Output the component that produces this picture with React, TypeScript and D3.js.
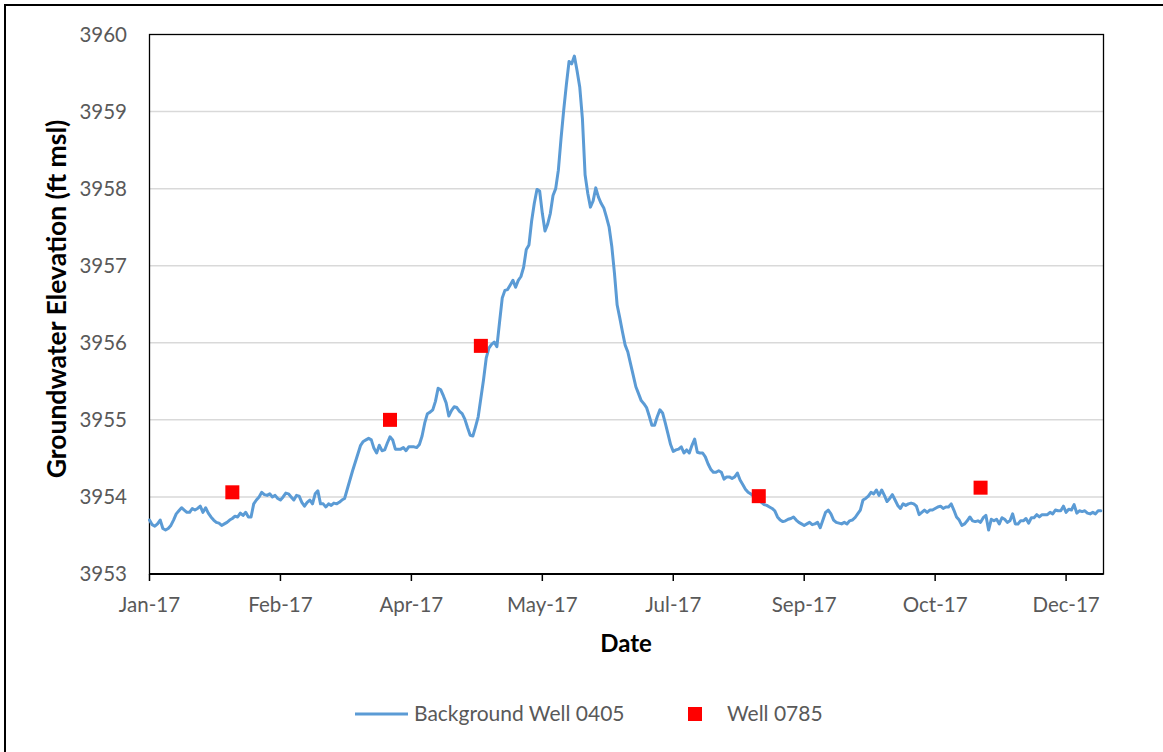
import React from "react";
import * as d3 from "d3";

// ---- Data ----
const seriesStart = "2017-01-01"; // first daily reading of Background Well 0405
const bgWellElevation: number[] = [
  3953.70, 3953.64, 3953.62, 3953.65, 3953.70, 3953.59, 3953.57, 3953.59, 3953.63, 3953.70,
  3953.78, 3953.82, 3953.86, 3953.83, 3953.80, 3953.80, 3953.85, 3953.83, 3953.85, 3953.88,
  3953.80, 3953.86, 3953.79, 3953.74, 3953.70, 3953.67, 3953.66, 3953.63, 3953.65, 3953.67,
  3953.70, 3953.72, 3953.75, 3953.74, 3953.79, 3953.76, 3953.80, 3953.74, 3953.74, 3953.91,
  3953.96, 3954.00, 3954.06, 3954.03, 3954.02, 3954.04, 3954.00, 3954.02, 3953.98, 3953.96,
  3954.00, 3954.05, 3954.04, 3954.00, 3953.96, 3954.02, 3954.01, 3953.93, 3953.88, 3953.93,
  3953.96, 3953.91, 3954.04, 3954.08, 3953.91, 3953.91, 3953.87, 3953.91, 3953.89, 3953.92,
  3953.91, 3953.93, 3953.96, 3953.98, 3954.10, 3954.22, 3954.34, 3954.45, 3954.56, 3954.67,
  3954.72, 3954.74, 3954.76, 3954.74, 3954.63, 3954.57, 3954.67, 3954.60, 3954.61, 3954.70,
  3954.78, 3954.74, 3954.62, 3954.62, 3954.62, 3954.64, 3954.60, 3954.65, 3954.65, 3954.65,
  3954.64, 3954.68, 3954.79, 3954.96, 3955.08, 3955.10, 3955.13, 3955.24, 3955.41, 3955.39,
  3955.31, 3955.22, 3955.05, 3955.12, 3955.17, 3955.16, 3955.11, 3955.08, 3955.01, 3954.90,
  3954.80, 3954.79, 3954.91, 3955.04, 3955.28, 3955.52, 3955.80, 3955.93, 3955.98, 3956.01,
  3955.95, 3956.27, 3956.58, 3956.68, 3956.69, 3956.75, 3956.81, 3956.72, 3956.81, 3956.86,
  3956.98, 3957.21, 3957.27, 3957.58, 3957.81, 3957.99, 3957.97, 3957.68, 3957.45, 3957.54,
  3957.68, 3957.91, 3958.00, 3958.24, 3958.65, 3959.02, 3959.35, 3959.65, 3959.62, 3959.72,
  3959.53, 3959.32, 3958.91, 3958.18, 3957.94, 3957.76, 3957.84, 3958.01, 3957.89, 3957.81,
  3957.75, 3957.63, 3957.50, 3957.25, 3956.90, 3956.49, 3956.32, 3956.14, 3955.97, 3955.88,
  3955.73, 3955.58, 3955.43, 3955.34, 3955.25, 3955.21, 3955.16, 3955.05, 3954.93, 3954.93,
  3955.04, 3955.13, 3955.09, 3954.96, 3954.82, 3954.68, 3954.59, 3954.61, 3954.62, 3954.65,
  3954.57, 3954.61, 3954.57, 3954.67, 3954.75, 3954.58, 3954.57, 3954.57, 3954.52, 3954.43,
  3954.36, 3954.32, 3954.32, 3954.34, 3954.32, 3954.23, 3954.26, 3954.26, 3954.24, 3954.26,
  3954.31, 3954.22, 3954.16, 3954.10, 3954.06, 3954.04, 3954.01, 3953.99, 3953.96, 3953.93,
  3953.90, 3953.89, 3953.87, 3953.85, 3953.82, 3953.74, 3953.70, 3953.68, 3953.69, 3953.71,
  3953.72, 3953.74, 3953.70, 3953.67, 3953.65, 3953.63, 3953.65, 3953.67, 3953.64, 3953.65,
  3953.67, 3953.60, 3953.70, 3953.80, 3953.83, 3953.78, 3953.70, 3953.67, 3953.66, 3953.65,
  3953.67, 3953.65, 3953.69, 3953.70, 3953.73, 3953.78, 3953.83, 3953.96, 3953.98, 3954.01,
  3954.06, 3954.04, 3954.09, 3954.02, 3954.09, 3954.02, 3953.94, 3953.98, 3954.03, 3953.96,
  3953.89, 3953.85, 3953.91, 3953.89, 3953.91, 3953.92, 3953.91, 3953.88, 3953.77, 3953.80,
  3953.83, 3953.80, 3953.83, 3953.83, 3953.85, 3953.87, 3953.88, 3953.85, 3953.87, 3953.87,
  3953.91, 3953.83, 3953.74, 3953.70, 3953.63, 3953.65, 3953.69, 3953.74, 3953.69, 3953.68,
  3953.69, 3953.67, 3953.73, 3953.76, 3953.57, 3953.71, 3953.69, 3953.71, 3953.65, 3953.73,
  3953.71, 3953.67, 3953.69, 3953.78, 3953.65, 3953.65, 3953.69, 3953.69, 3953.72, 3953.66,
  3953.73, 3953.73, 3953.77, 3953.74, 3953.77, 3953.77, 3953.77, 3953.80, 3953.78, 3953.83,
  3953.82, 3953.82, 3953.88, 3953.80, 3953.84, 3953.83, 3953.90, 3953.79, 3953.82, 3953.81,
  3953.82, 3953.79, 3953.78, 3953.80, 3953.78, 3953.82, 3953.82,
];

const well0785Dates = ["2017-02-01", "2017-04-01", "2017-05-05", "2017-08-17", "2017-11-08"];
const well0785Values = [3954.06, 3955.0, 3955.96, 3954.01, 3954.12];

const xTickDates = [
  "2017-01-01", "2017-02-19", "2017-04-09", "2017-05-28",
  "2017-07-16", "2017-09-03", "2017-10-22", "2017-12-10",
];
const xTickLabels = ["Jan-17", "Feb-17", "Apr-17", "May-17", "Jul-17", "Sep-17", "Oct-17", "Dec-17"];
const xDomain = ["2017-01-01", "2017-12-24"];
const yTicks = [3953, 3954, 3955, 3956, 3957, 3958, 3959, 3960];

// ---- Layout ----
const W = 1163;
const H = 752;
const plot = { left: 149.5, right: 1103.5, top: 34.5, bottom: 574 };
const FONT = "Lato, 'Open Sans', sans-serif";
const LINE_COLOR = "#5B9BD5";
const MARK_COLOR = "#FF0000";
const TEXT_GREY = "#595959";

const parse = d3.utcParse("%Y-%m-%d");

export default function App() {
  const x = d3
    .scaleUtc()
    .domain(xDomain.map((s) => parse(s) as Date))
    .range([plot.left, plot.right]);
  const y = d3.scaleLinear().domain([3953, 3960]).range([plot.bottom, plot.top]);

  const start = parse(seriesStart) as Date;
  const series = bgWellElevation.map((v, i) => ({ date: d3.utcDay.offset(start, i), v }));
  const lineGen = d3
    .line<{ date: Date; v: number }>()
    .x((d) => x(d.date))
    .y((d) => y(d.v));

  const markers = well0785Dates.map((s, i) => ({ date: parse(s) as Date, v: well0785Values[i] }));
  const mSize = 14;

  return (
    <svg
      width={W}
      height={H}
      style={{ position: "absolute", left: 0, top: 0, background: "#fff" }}
      fontFamily={FONT}
    >
      <rect x={0} y={0} width={W} height={H} fill="#fff" />
      {/* outer chart border */}
      <rect x={5} y={5} width={1300} height={900} fill="none" stroke="#000" strokeWidth={2} />

      {/* gridlines */}
      {yTicks
        .filter((t) => t !== 3953 && t !== 3960)
        .map((t) => (
          <line
            key={"g" + t}
            x1={plot.left}
            x2={plot.right}
            y1={y(t)}
            y2={y(t)}
            stroke="#D9D9D9"
            strokeWidth={1.5}
          />
        ))}

      {/* plot border */}
      <rect
        x={plot.left}
        y={plot.top}
        width={plot.right - plot.left}
        height={plot.bottom - plot.top}
        fill="none"
        stroke="#000"
        strokeWidth={1.3}
      />
      <line x1={plot.left} x2={plot.right} y1={plot.bottom} y2={plot.bottom} stroke="#000" strokeWidth={2} />

      {/* x ticks */}
      {xTickDates.map((s, i) => {
        const xx = x(parse(s) as Date);
        return (
          <g key={"xt" + i}>
            <line x1={xx} x2={xx} y1={plot.bottom} y2={plot.bottom + 7} stroke="#000" strokeWidth={1.5} />
            <text x={xx} y={612} textAnchor="middle" fontSize={20.5} fill={TEXT_GREY}>
              {xTickLabels[i]}
            </text>
          </g>
        );
      })}

      {/* y tick labels */}
      {yTicks.map((t) => (
        <text key={"yt" + t} x={127} y={y(t) + 7} textAnchor="end" fontSize={20.5} fill={TEXT_GREY}>
          {t}
        </text>
      ))}

      {/* series line */}
      <path
        d={lineGen(series) || ""}
        fill="none"
        stroke={LINE_COLOR}
        strokeWidth={3}
        strokeLinejoin="round"
        strokeLinecap="round"
      />

      {/* markers */}
      {markers.map((m, i) => (
        <rect
          key={"m" + i}
          x={x(m.date) - mSize / 2}
          y={y(m.v) - mSize / 2}
          width={mSize}
          height={mSize}
          fill={MARK_COLOR}
        />
      ))}

      {/* axis titles */}
      <text x={626} y={652} textAnchor="middle" fontSize={24} fontWeight="bold" fill="#000">
        Date
      </text>
      <text
        transform={`translate(66, 299) rotate(-90)`}
        textAnchor="middle"
        fontSize={26.5}
        fontWeight="bold"
        fill="#000"
      >
        Groundwater Elevation (ft msl)
      </text>

      {/* legend */}
      <line x1={355} x2={408} y1={714} y2={714} stroke={LINE_COLOR} strokeWidth={3} />
      <text x={414} y={721} fontSize={21} fill={TEXT_GREY}>
        Background Well 0405
      </text>
      <rect x={688} y={707} width={mSize} height={mSize} fill={MARK_COLOR} />
      <text x={727} y={721} fontSize={21} fill={TEXT_GREY}>
        Well 0785
      </text>
    </svg>
  );
}
